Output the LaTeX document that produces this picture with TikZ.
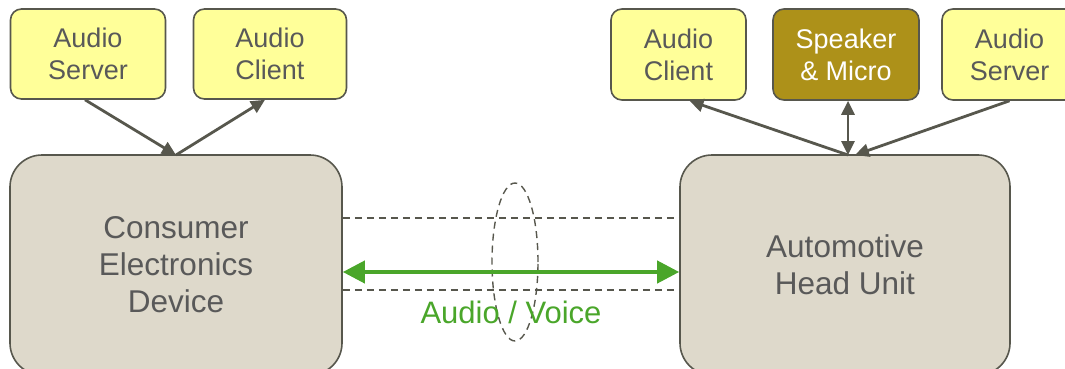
\documentclass[tikz,border=0pt]{standalone}
\usepackage{fontspec}
\setmainfont{Liberation Sans}
\usetikzlibrary{arrows.meta,shapes.geometric}
\definecolor{boxyellow}{HTML}{FFFF99}
\definecolor{edgegray}{HTML}{57574D}
\definecolor{spk}{HTML}{AD9119}
\definecolor{bigfill}{HTML}{DED9CB}
\definecolor{txtgray}{HTML}{595959}
\definecolor{vgreen}{HTML}{4AA62A}
\tikzset{
  smallbox/.style={draw=edgegray,line width=1.6pt,rounded corners=11pt,fill=boxyellow,
    text=txtgray,align=center,inner sep=0pt,font=\fontsize{27}{32}\selectfont},
  bigbox/.style={draw=edgegray,line width=1.6pt,rounded corners=32pt,fill=bigfill,
    text=txtgray,align=center,inner sep=0pt,font=\fontsize{31.5}{37}\selectfont},
  conn/.style={draw=edgegray,line width=2.8pt,-{Triangle[length=14pt,width=13pt]}},
  dconn/.style={draw=edgegray,line width=2.8pt,{Triangle[length=14pt,width=13pt]}-{Triangle[length=14pt,width=13pt]}},
  dline/.style={draw=edgegray,line width=1.4pt,dash pattern=on 7pt off 5pt},
}
\begin{document}
\begin{tikzpicture}[x=1pt,y=-1pt]
\useasboundingbox (0,0) rectangle (1065,369);
\clip (0,0) rectangle (1065,369);
% big boxes
\node[bigbox,minimum width=332pt,minimum height=220pt] (lbox) at (176,265) {Consumer\\Electronics\\Device};
\node[bigbox,minimum width=330pt,minimum height=220pt] (rbox) at (845,265) {Automotive\\Head Unit};
% small boxes left
\node[smallbox,minimum width=155pt,minimum height=90pt] (lserver) at (88,54) {Audio\\Server};
\node[smallbox,minimum width=153pt,minimum height=90pt] (lclient) at (270,54) {Audio\\Client};
% small boxes right
\node[smallbox,minimum width=135pt,minimum height=91pt] (rclient) at (678.5,54.5) {Audio\\Client};
\node[smallbox,fill=spk,text=white,minimum width=146pt,minimum height=91pt] (spk) at (846,54.5) {Speaker\\\& Micro};
\node[smallbox,minimum width=135pt,minimum height=91pt] (rserver) at (1009.5,54.5) {Audio\\Server};
% junctions
\coordinate (lj) at (176,155);
\coordinate (rj) at (848,155);
\coordinate (rj2) at (855,155);
% connectors
\draw[conn] ([xshift=-3pt]lserver.south) -- (lj);
\draw[conn] (lj) -- ([xshift=-5pt]lclient.south);
\draw[conn] (rj) -- ([xshift=11pt]rclient.south);
\draw[dconn] (spk.south -| rj) -- (rj);
\draw[conn] ([xshift=0pt]rserver.south) -- (rj2);
% link
\draw[dline] ([yshift=47pt]lbox.east) -- ([yshift=47pt]lbox.east -| rbox.west);
\draw[dline] ([yshift=-25pt]lbox.east) -- ([yshift=-25pt]lbox.east -| rbox.west);
\node[draw=edgegray,line width=1.4pt,dash pattern=on 7pt off 5pt,ellipse,minimum width=46pt,minimum height=158pt,inner sep=0pt] (ring) at (515,262) {};
\draw[vgreen,line width=4pt,{Triangle[length=22pt,width=22pt]}-{Triangle[length=22pt,width=22pt]}] ([yshift=-7pt]lbox.east) -- ([yshift=-7pt]lbox.east -| rbox.west);
\node[text=vgreen,font=\fontsize{31}{36}\selectfont,inner sep=0pt] (lbl) at (511,312) {Audio / Voice};
\end{tikzpicture}
\end{document}
